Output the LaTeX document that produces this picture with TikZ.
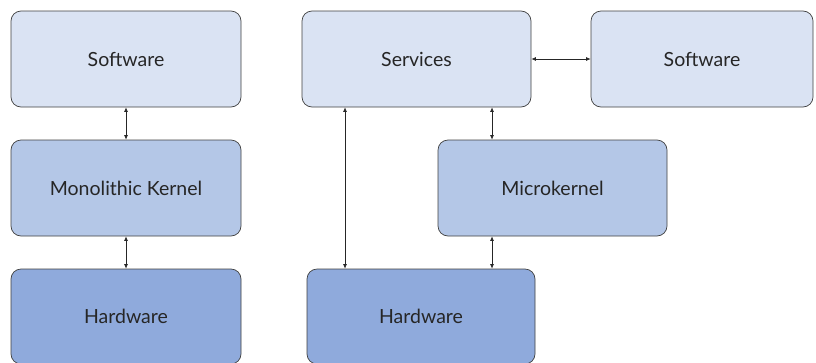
\documentclass[tikz,border=0pt]{standalone}
\usepackage{fontspec}
\setmainfont{Lato}
\usetikzlibrary{arrows.meta}
\begin{document}
\begin{tikzpicture}[x=1pt,y=-1pt,
  box/.style={draw=black!75,line width=0.7pt,rounded corners=10pt,inner sep=0pt,
    font=\fontsize{19.5}{23}\selectfont,text=black!85},
  lite/.style={box,fill=light},
  mid/.style={box,fill=middle},
  dark/.style={box,fill=deep},
  link/.style={{Latex[length=4.5pt,width=4pt]}-{Latex[length=4.5pt,width=4pt]},line width=0.7pt,black!85}]
\definecolor{light}{HTML}{DAE3F3}
\definecolor{middle}{HTML}{B4C7E7}
\definecolor{deep}{HTML}{8FAADC}
\useasboundingbox (0,0) rectangle (816,362);
% left stack
\node[lite,minimum width=230pt,minimum height=96pt] (sw1) at (126,59) {Software};
\node[mid,minimum width=230pt,minimum height=96pt] (mk) at (126,188) {Monolithic Kernel};
\node[dark,minimum width=230pt,minimum height=95pt] (hw1) at (126,316.5) {Hardware};
% right stack
\node[lite,minimum width=229pt,minimum height=96pt] (svc) at (416.5,59) {Services};
\node[lite,minimum width=222pt,minimum height=96pt] (sw2) at (702,59) {Software};
\node[mid,minimum width=229pt,minimum height=96pt] (uk) at (552.5,188) {Microkernel};
\node[dark,minimum width=228pt,minimum height=95pt] (hw2) at (421,316.5) {Hardware};
% connectors
\draw[link] (sw1.south) -- (mk.north);
\draw[link] (mk.south) -- (hw1.north);
\draw[link] (svc.east) -- (sw2.west);
\draw[link] (svc.south -| 492,0) -- (uk.north -| 492,0);
\draw[link] (uk.south -| 492,0) -- (hw2.north -| 492,0);
\draw[link] (svc.south -| 345,0) -- (hw2.north -| 345,0);
\end{tikzpicture}
\end{document}
